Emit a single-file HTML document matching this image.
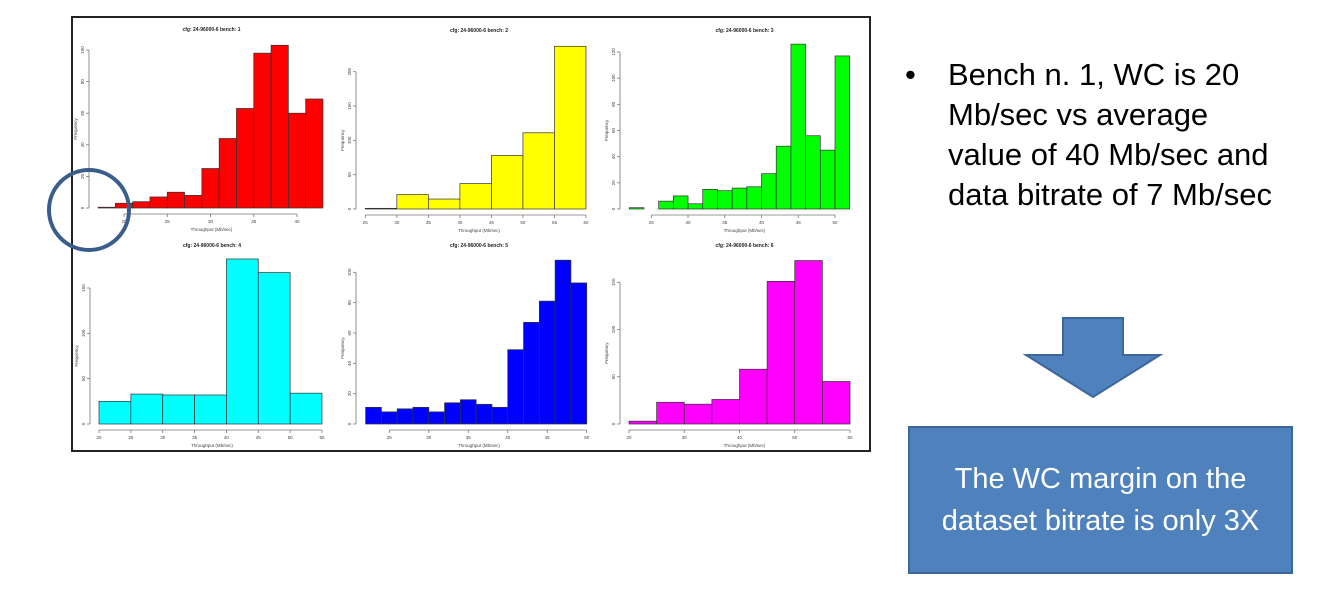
<!DOCTYPE html>
<html><head><meta charset="utf-8"><style>
body{margin:0;width:1325px;height:591px;background:#fff;overflow:hidden;position:relative;font-family:"Liberation Sans",sans-serif}
#bullets{position:absolute;left:905px;top:55px;font-size:31px;line-height:40px;color:#000}
#bullets .b{position:absolute;left:0;top:0}
#bullets .t{position:absolute;left:43px;top:0;width:380px;white-space:nowrap}
#box{position:absolute;left:908px;top:426px;width:381px;height:144px;background:#4f81bd;border:2px solid #3b679b;color:#fff;font-size:29px;line-height:42px;text-align:center;display:flex;align-items:center;justify-content:center}
</style></head><body>
<svg id="chart" width="1325" height="591" style="position:absolute;left:0;top:0">
<rect x="72" y="17" width="798" height="434" fill="#fff" stroke="#222" stroke-width="2"/>
<g id="plots"></g>
<circle cx="89" cy="210" r="40" fill="none" stroke="#3a5d8c" stroke-width="4"/>
<polygon points="1063,318 1123,318 1123,355 1160,355 1093,397 1026,355 1063,355" fill="#4f81bd" stroke="#3b679b" stroke-width="2"/>
</svg>
<div id="bullets">
<span class="b">•</span>
<div class="t">Bench n. 1, WC is 20<br>Mb/sec vs average<br>value of 40 Mb/sec and<br>data bitrate of 7 Mb/sec</div>
</div>
<div id="box"><div>The WC margin on the<br>dataset bitrate is only 3X</div></div>
<script>
// data
const bench1Start=17, bench1Width=2, bench1Values=[0.5,3,4,7,10,8,25,44,63,98,103,60,69];
const bench2Start=25, bench2Width=5, bench2Values=[1,21,14.5,37,78,111,237];
const bench3Start=22, bench3Width=2, bench3Values=[1,0,6,10,4,15,14,16,17,27,48,126,56,45,117];
const bench4Start=20, bench4Width=5, bench4Values=[25,33,32,32,182,167,34];
const bench5Start=22, bench5Width=2, bench5Values=[11,8,10,11,8,14,16,13,11,49,67,81,108,93];
const bench6Start=20, bench6Width=5, bench6Values=[3,23,21,26,58,151,173,45];
const bench1XTicks=[20,25,30,35,40], bench1YTicks=[0,20,40,60,80,100];
const bench2XTicks=[25,30,35,40,45,50,55,60], bench2YTicks=[0,50,100,150,200];
const bench3XTicks=[25,30,35,40,45,50], bench3YTicks=[0,20,40,60,80,100,120];
const bench4XTicks=[20,25,30,35,40,45,50,55], bench4YTicks=[0,50,100,150];
const bench5XTicks=[25,30,35,40,45,50], bench5YTicks=[0,20,40,60,80,100];
const bench6XTicks=[20,30,40,50,60], bench6YTicks=[0,50,100,150];
const benchNames=["1","2","3","4","5","6"];
const benchColors=["#ff0000","#ffff00","#00ff00","#00ffff","#0000ff","#ff00ff"];

// layout (pixel mapping per panel)
const layout=[
 {a:20,pa:124,b:40,pb:297,ty:100,pty:50,base:208,yax:89,right:322},
 {a:25,pa:365.3,b:60,pb:586,ty:200,pty:71.7,base:209,yax:356,right:590},
 {a:25,pa:651.3,b:50,pb:835,ty:120,pty:52,base:209,yax:620,right:857},
 {a:20,pa:99,b:55,pb:322,ty:150,pty:288,base:424,yax:90,right:322},
 {a:25,pa:389.3,b:50,pb:586.7,ty:100,pty:272.3,base:424,yax:356,right:590},
 {a:20,pa:629,b:60,pb:850,ty:150,pty:282.3,base:424,yax:620,right:857}];
const starts=[bench1Start,bench2Start,bench3Start,bench4Start,bench5Start,bench6Start];
const widths=[bench1Width,bench2Width,bench3Width,bench4Width,bench5Width,bench6Width];
const vals=[bench1Values,bench2Values,bench3Values,bench4Values,bench5Values,bench6Values];
const xt=[bench1XTicks,bench2XTicks,bench3XTicks,bench4XTicks,bench5XTicks,bench6XTicks];
const yt=[bench1YTicks,bench2YTicks,bench3YTicks,bench4YTicks,bench5YTicks,bench6YTicks];
const NS="http://www.w3.org/2000/svg";
const root=document.getElementById('plots');
function mk(tag,attrs,parent,text){const e=document.createElementNS(NS,tag);for(const k in attrs)e.setAttribute(k,attrs[k]);if(text!==undefined)e.textContent=text;parent.appendChild(e);return e;}
for(let p=0;p<6;p++){
 const L=layout[p];
 const xs=v=>L.pa+(v-L.a)*(L.pb-L.pa)/(L.b-L.a);
 const ys=v=>L.base-v*(L.base-L.pty)/L.ty;
 const g=mk('g',{},root);
 
 
 vals[p].forEach((v,i)=>{
  const x0=xs(starts[p]+i*widths[p]), x1=xs(starts[p]+(i+1)*widths[p]);
  const r=mk('rect',{x:x0,y:ys(v),width:x1-x0,height:L.base-ys(v),fill:benchColors[p],stroke:'#333','stroke-width':0.7},g);
  
  
 });
 const X=xt[p], Y=yt[p], xa=L.base+6;
 const xl=mk('line',{x1:xs(X[0]),x2:xs(X[X.length-1]),y1:xa,y2:xa,stroke:'#777','stroke-width':0.8},g);
 
 
 X.forEach(t=>{mk('line',{x1:xs(t),x2:xs(t),y1:xa,y2:xa+3,stroke:'#777','stroke-width':0.8},g);
  const tx=mk('text',{x:xs(t),y:xa+9,'font-size':4.5,'text-anchor':'middle',fill:'#444'},g,String(t));
  
  });
 const yl=mk('line',{x1:L.yax,x2:L.yax,y1:ys(Y[0]),y2:ys(Y[Y.length-1]),stroke:'#777','stroke-width':0.8},g);
 
 
 Y.forEach(t=>{mk('line',{x1:L.yax-3,x2:L.yax,y1:ys(t),y2:ys(t),stroke:'#777','stroke-width':0.8},g);
  const tx=mk('text',{x:L.yax-5,y:ys(t),'font-size':4.5,'text-anchor':'middle',fill:'#444',transform:'rotate(-90 '+(L.yax-5)+' '+ys(t)+')'},g,String(t));
  
  });
 const cx=(L.yax+L.right)/2+6;
 const ti=mk('text',{x:cx,y:L.base-177,'font-size':5,'font-weight':'bold','text-anchor':'middle',fill:'#222'},g,'cfg: 24-96000-6  bench: '+benchNames[p]);
 
 
 const xt2=mk('text',{x:cx,y:xa+17,'font-size':4.5,'text-anchor':'middle',fill:'#444'},g,'Throughput (Mb/sec)');
 
 
 const yy=(L.base+L.pty)/2, yx=L.yax-12;
 const yt2=mk('text',{x:yx,y:yy,'font-size':4.5,'text-anchor':'middle',fill:'#444',transform:'rotate(-90 '+yx+' '+yy+')'},g,'Frequency');
 
 
}
</script>
</body></html>
